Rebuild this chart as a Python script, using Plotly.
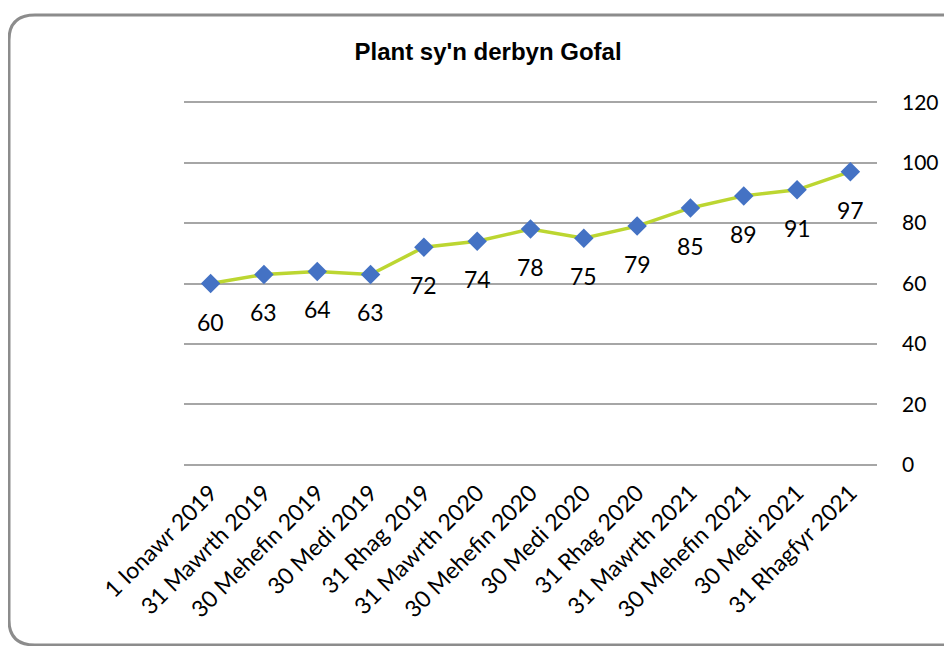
import plotly.graph_objects as go

# ---------------------------------------------------------------------------
# Data
# ---------------------------------------------------------------------------
dates = [
    "1 Ionawr 2019", "31 Mawrth 2019", "30 Mehefin 2019", "30 Medi 2019",
    "31 Rhag 2019", "31 Mawrth 2020", "30 Mehefin 2020", "30 Medi 2020",
    "31 Rhag 2020", "31 Mawrth 2021", "30 Mehefin 2021", "30 Medi 2021",
    "31 Rhagfyr 2021",
]
children = [60, 63, 64, 63, 72, 74, 78, 75, 79, 85, 89, 91, 97]
y_ticks = [0, 20, 40, 60, 80, 100, 120]

_LINE = "#BCD631"
_MARKER = "#4472C4"
_GRID = "#A6A6A6"
_FONT = "Lato, Calibri, sans-serif"

# the page body has an 8px margin, so the figure is drawn 8px in from the corner
_OFF = 8
_W, _H = 952 - _OFF, 646 - _OFF
# plot area in window pixels (left, top, right, bottom)
_L, _T, _R, _B = 184, 101, 877, 466


def _px(x, y):
    """Window pixel position -> paper coordinates of the plot area."""
    return (x - _L) / (_R - _L), (_B - y) / (_B - _T)


fig = go.Figure()

fig.add_trace(go.Scatter(
    x=dates, y=children,
    mode="lines+markers",
    line=dict(color=_LINE, width=3.5),
    marker=dict(symbol="diamond", size=15, color=_MARKER),
    hoverinfo="x+y",
    showlegend=False,
))

# data labels sit well below each point
for d, v in zip(dates, children):
    fig.add_annotation(
        x=d, y=v, text=str(v), showarrow=False,
        yshift=-38, font=dict(size=23, color="#000000", family=_FONT),
    )

# rounded chart border (runs off the right and bottom of the picture)
pts = [(9, 620), (9, 40), (9, 15), (35, 15), (970, 15)]
p = [_px(*q) for q in pts]
path = (f"M {p[0][0]} {p[0][1]} L {p[1][0]} {p[1][1]} "
        f"Q {p[2][0]} {p[2][1]} {p[3][0]} {p[3][1]} L {p[4][0]} {p[4][1]}")
fig.add_shape(type="path", xref="paper", yref="paper", path=path,
              line=dict(color="#8C8C8C", width=3))
bl = [_px(*q) for q in [(9, 620), (9, 645), (35, 645), (970, 645)]]
fig.add_shape(
    type="path", xref="paper", yref="paper",
    path=(f"M {bl[0][0]} {bl[0][1]} Q {bl[1][0]} {bl[1][1]} "
          f"{bl[2][0]} {bl[2][1]} L {bl[3][0]} {bl[3][1]}"),
    line=dict(color="#8C8C8C", width=3),
)

fig.update_layout(
    width=_W, height=_H,
    paper_bgcolor="white", plot_bgcolor="white",
    font=dict(family=_FONT, color="#000000"),
    margin=dict(l=_L - _OFF, r=952 - _R, t=_T - _OFF, b=646 - _B),
    title=dict(
        text="<b>Plant sy'n derbyn Gofal</b>",
        x=(488 - _OFF) / _W, xanchor="center",
        y=1 - (52 - _OFF) / _H, yanchor="middle",
        font=dict(size=24, family="Liberation Sans Narrow, Arial Narrow, sans-serif"),
    ),
    xaxis=dict(
        type="category",
        range=[-0.5, len(dates) - 0.5],
        tickangle=-45,
        tickfont=dict(size=23, family=_FONT),
        showgrid=False, zeroline=False, showline=False,
        ticks="", ticklabelstandoff=8, automargin=False,
    ),
    yaxis=dict(
        side="right",
        range=[-0.4, 120.4],
        tickvals=y_ticks,
        tickfont=dict(size=21, family=_FONT),
        showgrid=True, gridcolor=_GRID, gridwidth=1.5,
        zeroline=False, showline=False, ticks="",
        ticklabelstandoff=24, automargin=False,
    ),
)

fig.write_html("out.html")
